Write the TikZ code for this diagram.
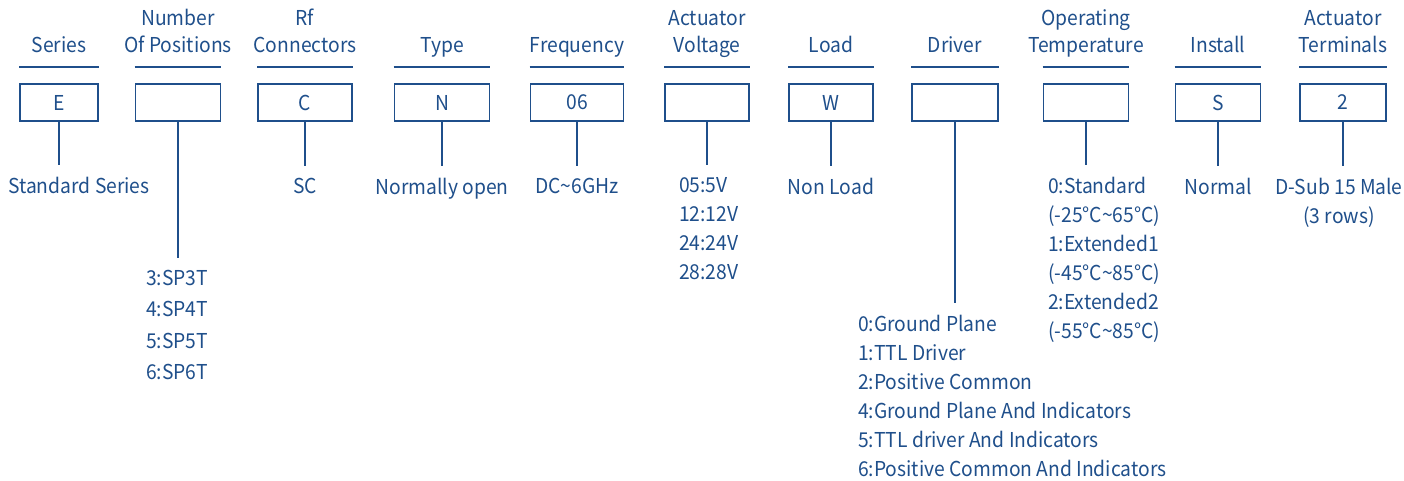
\documentclass[tikz,border=0pt]{standalone}
\usepackage{fontspec}
\setmainfont{Noto Sans CJK JP}[FakeStretch=0.94]
\usetikzlibrary{positioning}
\definecolor{codeblue}{HTML}{1F4F8B}

\begin{document}
\begin{tikzpicture}[
    x=1pt,y=-1pt,
    every node/.style={font=\fontsize{20.5}{29}\selectfont,text=codeblue},
    title/.style={anchor=south,align=center,inner sep=0pt,text depth=5pt,font=\fontsize{20.5}{27}\selectfont},
    codebox/.style={draw=codeblue,line width=1.8pt,minimum height=37pt,inner sep=0pt},
    desc/.style={anchor=north,align=center,inner xsep=0pt,inner ysep=12pt},
    opts/.style={anchor=north west,align=left,inner xsep=0pt,inner ysep=12pt},
    line/.style={draw=codeblue,line width=1.8pt}
]
\useasboundingbox (0,0) rectangle (1404,481);

\node[codebox,minimum width=78pt] (ser) at (59,102.5) {E};
\node[codebox,minimum width=85pt] (pos) at (178,102.5) {};
\node[codebox,minimum width=94pt] (rfc) at (305,102.5) {C};
\node[codebox,minimum width=95pt] (typ) at (442,102.5) {N};
\node[codebox,minimum width=93pt] (frq) at (577,102.5) {06};
\node[codebox,minimum width=84pt] (vlt) at (707,102.5) {};
\node[codebox,minimum width=84pt] (lod) at (831,102.5) {W};
\node[codebox,minimum width=86pt] (drv) at (955,102.5) {};
\node[codebox,minimum width=85pt] (tmp) at (1086,102.5) {};
\node[codebox,minimum width=85pt] (ins) at (1218,102.5) {S};
\node[codebox,minimum width=86pt] (trm) at (1343,102.5) {2};

\node[title,above=25pt of ser] (serT) {Series};
\node[title,above=25pt of pos] (posT) {Number\\Of Positions};
\node[title,above=25pt of rfc] (rfcT) {Rf\\Connectors};
\node[title,above=25pt of typ] (typT) {Type};
\node[title,above=25pt of frq] (frqT) {Frequency};
\node[title,above=25pt of vlt] (vltT) {Actuator\\Voltage};
\node[title,above=25pt of lod] (lodT) {Load};
\node[title,above=25pt of drv] (drvT) {Driver};
\node[title,above=25pt of tmp] (tmpT) {Operating\\Temperature};
\node[title,above=25pt of ins] (insT) {Install};
\node[title,above=25pt of trm] (trmT) {Actuator\\Terminals};

\draw[line] ([yshift=16pt]ser.north west) -- ([yshift=16pt]ser.north east);
\draw[line] ([yshift=16pt]pos.north west) -- ([yshift=16pt]pos.north east);
\draw[line] ([yshift=16pt]rfc.north west) -- ([yshift=16pt]rfc.north east);
\draw[line] ([yshift=16pt]typ.north west) -- ([yshift=16pt]typ.north east);
\draw[line] ([yshift=16pt]frq.north west) -- ([yshift=16pt]frq.north east);
\draw[line] ([yshift=16pt]vlt.north west) -- ([yshift=16pt]vlt.north east);
\draw[line] ([yshift=16pt]lod.north west) -- ([yshift=16pt]lod.north east);
\draw[line] ([yshift=16pt]drv.north west) -- ([yshift=16pt]drv.north east);
\draw[line] ([yshift=16pt]tmp.north west) -- ([yshift=16pt]tmp.north east);
\draw[line] ([yshift=16pt]ins.north west) -- ([yshift=16pt]ins.north east);
\draw[line] ([yshift=16pt]trm.north west) -- ([yshift=16pt]trm.north east);

\node[desc] (serD) at (79,165) {Standard Series};
\node[desc,below=44pt of rfc] (rfcD) {SC};
\node[desc,below=44pt of typ] (typD) {Normally open};
\node[desc,below=44pt of frq] (frqD) {DC\textasciitilde 6GHz};
\node[desc,below=44pt of lod] (lodD) {Non Load};
\node[desc,below=44pt of ins] (insD) {Normal};
\node[desc,below=44pt of trm,xshift=-4pt] (trmD) {D-Sub 15 Male\\(3 rows)};

\node[opts,font=\fontsize{20.5}{31.5}\selectfont] (posL) at (146,258) {3:SP3T\\4:SP4T\\5:SP5T\\6:SP6T};
\node[opts] (vltL) at (679,165) {05:5V\\12:12V\\24:24V\\28:28V};
\node[opts] (drvL) at (858,303) {0:Ground Plane\\1:TTL Driver\\2:Positive Common\\4:Ground Plane And Indicators\\5:TTL driver And Indicators\\6:Positive Common And Indicators};
\node[opts] (tmpL) at (1048,165) {0:Standard\\(-25°C\textasciitilde 65°C)\\1:Extended1\\(-45°C\textasciitilde 85°C)\\2:Extended2\\(-55°C\textasciitilde 85°C)};

\draw[line] (ser) -- (ser |- serD.north);
\draw[line] (pos) -- (pos |- posL.north);
\draw[line] (rfc) -- (rfcD);
\draw[line] (typ) -- (typD);
\draw[line] (frq) -- (frqD);
\draw[line] (vlt) -- (vlt |- vltL.north);
\draw[line] (lod) -- (lodD);
\draw[line] (drv) -- (drv |- drvL.north);
\draw[line] (tmp) -- (tmp |- tmpL.north);
\draw[line] (ins) -- (insD);
\draw[line] (trm) -- (trm |- trmD.north);
\end{tikzpicture}
\end{document}
